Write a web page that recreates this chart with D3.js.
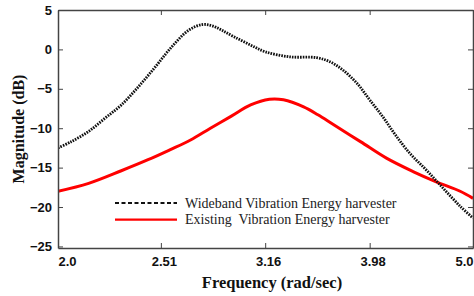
<!DOCTYPE html>
<html>
<head>
<meta charset="utf-8">
<script src="https://cdn.jsdelivr.net/npm/d3@7"></script>
<style>
  body { margin: 0; background: #fff; }
  svg { display: block; }
</style>
</head>
<body>
<div id="chart"></div>
<script>
// frequencies (rad/sec) and magnitudes (dB)
const wideFreq = [2.00, 2.06, 2.14, 2.22, 2.30, 2.39, 2.48, 2.57, 2.67, 2.75, 2.81, 2.87, 2.95, 3.06, 3.16, 3.34, 3.54, 3.65, 3.75, 3.87, 3.98, 4.10, 4.21, 4.35, 4.51, 4.68, 4.86, 5.00];
const wideMag = [-12.5, -11.7, -10.4, -8.7, -7.05, -4.7, -2.2, 0.3, 2.45, 3.15, 3.0, 2.45, 1.6, 0.55, -0.3, -0.95, -1.05, -1.6, -2.6, -4.3, -6.4, -8.6, -10.8, -13.2, -15.3, -17.6, -19.9, -21.4];

const existFreq = [2.00, 2.14, 2.30, 2.44, 2.56, 2.68, 2.80, 2.93, 3.06, 3.19, 3.29, 3.44, 3.55, 3.67, 3.90, 4.13, 4.38, 4.61, 4.86, 5.00];
const existMag = [-18.0, -17.0, -15.4, -14.0, -12.75, -11.5, -10.0, -8.5, -7.05, -6.33, -6.4, -7.3, -8.3, -9.5, -11.7, -13.8, -15.5, -16.8, -18.0, -18.9];

const xTicks = [2.0, 2.51, 3.16, 3.98, 5.0];
const xTickLabels = ["2.0", "2.51", "3.16", "3.98", "5.0"];
const yTicks = [5, 0, -5, -10, -15, -20, -25];

const legendLabels = ["Wideband Vibration Energy harvester", "Existing  Vibration Energy harvester"];

const W = 474, H = 296;
const margin = { top: 10, right: 1, bottom: 48, left: 58 };
const width = W - margin.left - margin.right,
    height = H - margin.top - margin.bottom;

const svg = d3.select("#chart")
    .append("svg")
    .attr("width", W)
    .attr("height", H)
    .append("g")
    .attr("transform", `translate(${margin.left},${margin.top})`);

const xScale = d3.scaleLog()
    .domain([2.0, 5.0])
    .range([0, width]);

const yScale = d3.scaleLinear()
    .domain([5, -25.2])
    .range([0, height]);

const axisColor = "#444";
const tickFont = "'Liberation Sans', Arial, sans-serif";
const serif = "'Liberation Serif', 'Times New Roman', serif";

svg.append("defs").append("clipPath").attr("id", "clip")
    .append("rect").attr("width", width).attr("height", height);

// curves
const wideData = wideFreq.map((f, i) => ({ f: f, v: wideMag[i] }));
const existData = existFreq.map((f, i) => ({ f: f, v: existMag[i] }));

const line = d3.line()
    .x(d => xScale(d.f))
    .y(d => yScale(d.v))
    .curve(d3.curveCatmullRom.alpha(0.5));

const plot = svg.append("g").attr("clip-path", "url(#clip)");

plot.append("path")
    .datum(existData)
    .attr("d", line)
    .attr("fill", "none")
    .attr("stroke", "#ff0000")
    .attr("stroke-width", 3);

plot.append("path")
    .datum(wideData)
    .attr("d", line)
    .attr("fill", "none")
    .attr("stroke", "#111")
    .attr("stroke-width", 2.8)
    .attr("stroke-dasharray", "1.6,1.1");

// axes with inward ticks
const bottomAxis = svg.append("g")
    .attr("transform", `translate(0,${height})`)
    .call(d3.axisBottom(xScale).tickValues(xTicks).tickSizeInner(-5).tickSizeOuter(0).tickFormat((d, i) => xTickLabels[i]));

bottomAxis.selectAll("text")
    .attr("y", 9)
    .attr("dx", (d, i) => i === 0 ? 0 : (i === xTicks.length - 1 ? 0 : 3))
    .attr("text-anchor", (d, i) => i === 0 ? "start" : (i === xTicks.length - 1 ? "end" : "middle"));

svg.append("g")
    .call(d3.axisTop(xScale).tickValues(xTicks).tickSizeInner(-5).tickSizeOuter(0).tickFormat(""));

const leftAxis = svg.append("g")
    .call(d3.axisLeft(yScale).tickValues(yTicks).tickSizeInner(-5).tickSizeOuter(0).tickFormat(d3.format("d")));

leftAxis.selectAll("text").attr("x", -6);

svg.append("g")
    .attr("transform", `translate(${width},0)`)
    .call(d3.axisRight(yScale).tickValues(yTicks).tickSizeInner(-5).tickSizeOuter(0).tickFormat(""));

svg.selectAll(".domain").attr("stroke", axisColor).attr("stroke-width", 1.5);
svg.selectAll(".tick line").attr("stroke", axisColor).attr("stroke-width", 1);
svg.selectAll(".tick text")
    .style("font-family", tickFont)
    .style("font-size", "13px")
    .style("font-weight", "bold")
    .attr("fill", "#111");

// axis titles
svg.append("text")
    .attr("text-anchor", "middle")
    .attr("x", 272 - margin.left)
    .attr("y", height + 40)
    .text("Frequency (rad/sec)")
    .style("font-family", serif)
    .style("font-size", "16.5px")
    .style("font-weight", "bold")
    .style("fill", "#111");

svg.append("text")
    .attr("text-anchor", "middle")
    .attr("transform", "rotate(-90)")
    .attr("x", -119)
    .attr("y", -34)
    .text("Magnitude (dB)")
    .style("font-family", serif)
    .style("font-size", "16px")
    .style("font-weight", "bold")
    .style("fill", "#111");

// legend
const legend = svg.append("g").attr("transform", `translate(57,193)`);
const legendStyles = [
    { stroke: "#111", dash: "4,2.5", w: 2 },
    { stroke: "#ff0000", dash: null, w: 2.2 }
];
legendLabels.forEach((label, i) => {
    const g = legend.append("g").attr("transform", `translate(0,${i * 16.6})`);
    g.append("line")
        .attr("x1", 0).attr("x2", 62)
        .attr("y1", 0).attr("y2", 0)
        .attr("stroke", legendStyles[i].stroke)
        .attr("stroke-width", legendStyles[i].w)
        .attr("stroke-dasharray", legendStyles[i].dash);
    g.append("text")
        .attr("x", 70)
        .attr("y", 4.5)
        .text(label)
        .style("font-family", serif)
        .style("font-size", "14px")
        .style("white-space", "pre")
        .attr("xml:space", "preserve")
        .style("fill", "#222");
});
</script>
</body>
</html>
